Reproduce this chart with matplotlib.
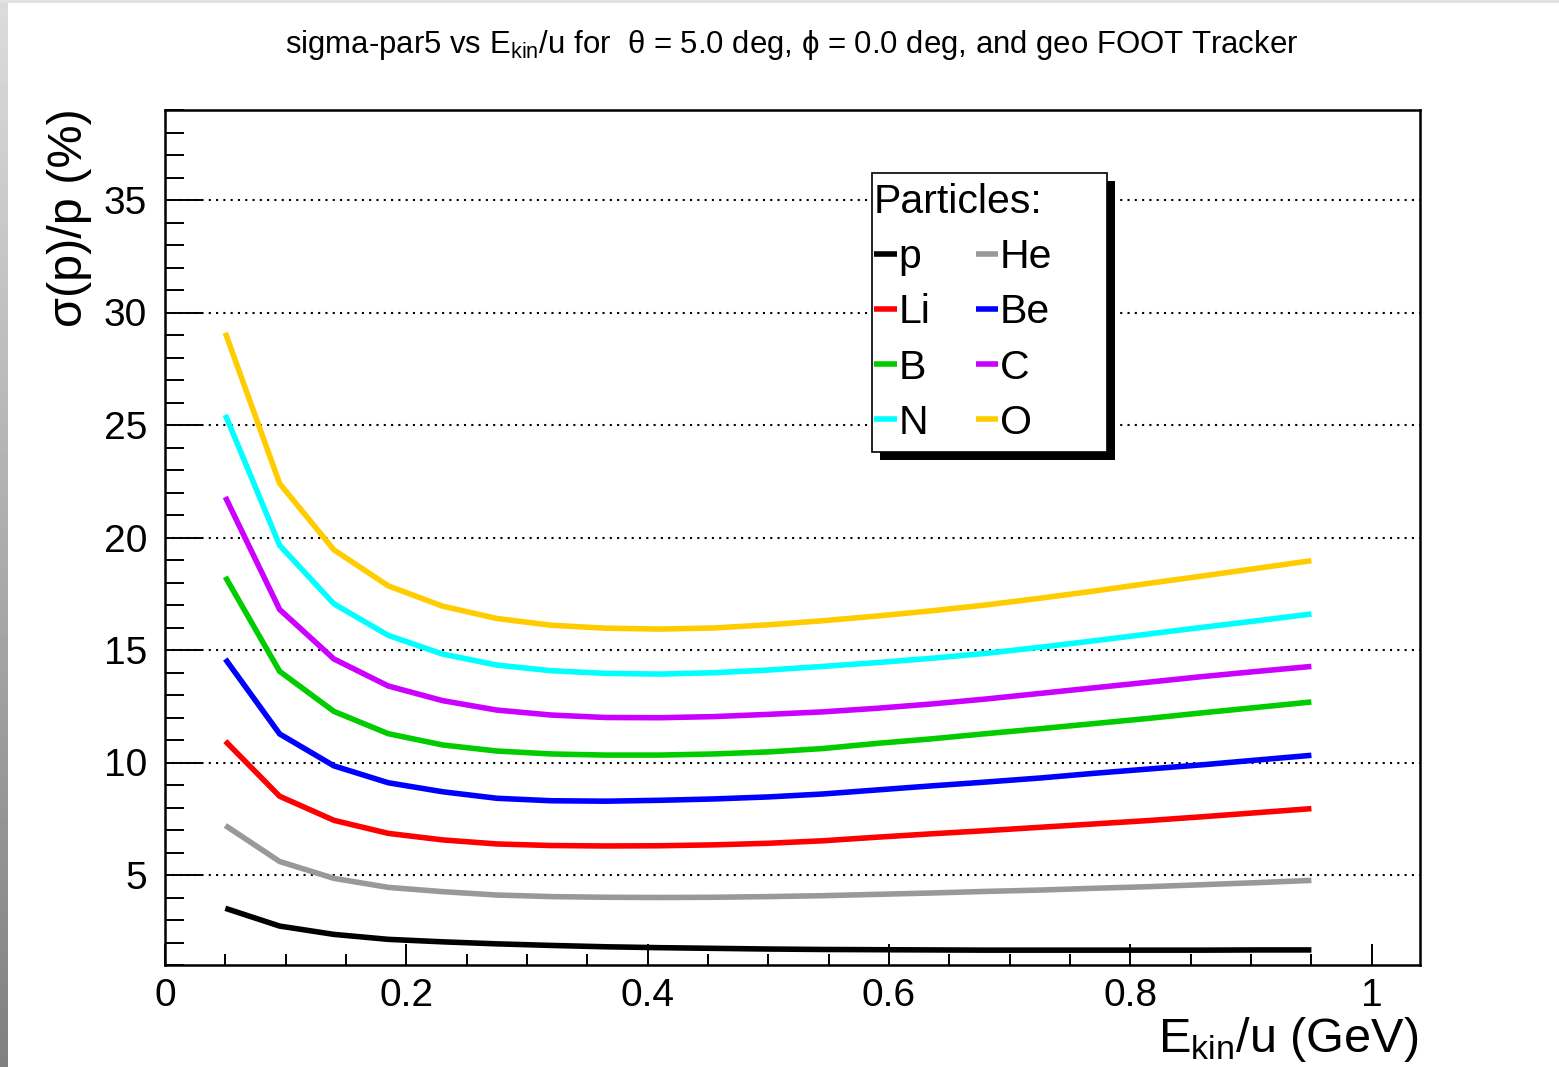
import matplotlib
matplotlib.use("Agg")
import matplotlib.pyplot as plt
import numpy as np
from matplotlib.lines import Line2D
from matplotlib.patches import Rectangle
from matplotlib.ticker import MultipleLocator, FixedLocator, FixedFormatter

plt.rcParams['font.family'] = ['Liberation Sans', 'DejaVu Sans']
plt.rcParams['mathtext.fontset'] = 'custom'
plt.rcParams['mathtext.rm'] = 'Liberation Sans'
plt.rcParams['mathtext.it'] = 'Liberation Sans:italic'

# kinetic energy per nucleon (GeV)
ekin = [0.05, 0.095, 0.14, 0.185, 0.23, 0.275, 0.32, 0.365, 0.41, 0.455, 0.5,
        0.545, 0.59, 0.635, 0.68, 0.725, 0.77, 0.815, 0.86, 0.905, 0.95]

# momentum resolution sigma(p)/p in percent, one list per particle
res_p = [3.52, 2.73, 2.36, 2.14, 2.03, 1.94, 1.87, 1.81, 1.77, 1.74, 1.71,
         1.69, 1.68, 1.67, 1.66, 1.66, 1.66, 1.66, 1.66, 1.67, 1.67]
res_he = [7.2, 5.6, 4.85, 4.45, 4.26, 4.11, 4.04, 4.01, 4.0, 4.01, 4.04,
          4.08, 4.14, 4.2, 4.27, 4.33, 4.41, 4.48, 4.57, 4.66, 4.76]
res_li = [10.95, 8.5, 7.43, 6.85, 6.56, 6.38, 6.31, 6.29, 6.3, 6.34, 6.41,
          6.52, 6.68, 6.83, 6.97, 7.12, 7.27, 7.42, 7.59, 7.77, 7.95]
res_be = [14.6, 11.27, 9.85, 9.1, 8.7, 8.41, 8.3, 8.28, 8.32, 8.38, 8.47,
          8.6, 8.78, 8.96, 9.13, 9.31, 9.52, 9.71, 9.9, 10.11, 10.32]
res_b = [18.25, 14.05, 12.27, 11.28, 10.78, 10.51, 10.38, 10.33, 10.33, 10.38, 10.47,
         10.62, 10.85, 11.05, 11.28, 11.5, 11.73, 11.96, 12.21, 12.45, 12.69]
res_c = [21.8, 16.8, 14.6, 13.4, 12.75, 12.33, 12.11, 12.0, 11.99, 12.04, 12.14,
         12.25, 12.41, 12.6, 12.82, 13.07, 13.32, 13.57, 13.82, 14.05, 14.27]
res_n = [25.45, 19.65, 17.05, 15.65, 14.82, 14.33, 14.08, 13.96, 13.93, 13.99, 14.11,
         14.27, 14.44, 14.63, 14.85, 15.12, 15.41, 15.71, 16.01, 16.3, 16.6]
res_o = [29.1, 22.4, 19.45, 17.85, 16.95, 16.4, 16.1, 15.97, 15.93, 15.98, 16.12,
         16.3, 16.51, 16.74, 17.0, 17.3, 17.62, 17.96, 18.29, 18.63, 18.97]

names = ['p', 'He', 'Li', 'Be', 'B', 'C', 'N', 'O']
series = [res_p, res_he, res_li, res_be, res_b, res_c, res_n, res_o]
colors = ['#000000', '#999999', '#ff0000', '#0000ff', '#00cc00', '#cc00ff', '#00ffff', '#ffcc00']

x_ticks = [0, 0.2, 0.4, 0.6, 0.8, 1.0]
x_labels = ['0', '0.2', '0.4', '0.6', '0.8', '1']
y_ticks = [5, 10, 15, 20, 25, 30, 35]

W, H = 1559, 1067
fig = plt.figure(figsize=(W / 100, H / 100), dpi=100)


def fx(px):
    return px / W


def fy(py):
    return 1 - py / H


ax = fig.add_axes([fx(165), fy(965), fx(1420) - fx(165), fy(110) - fy(965)])

for vals, col in zip(series, colors):
    ax.plot(ekin, vals, color=col, lw=4, solid_capstyle='butt', solid_joinstyle='miter', zorder=3)

ax.set_xlim(0, 1.04)
ax.set_ylim(1, 39)

ax.xaxis.set_major_locator(FixedLocator(x_ticks))
ax.xaxis.set_major_formatter(FixedFormatter(x_labels))
ax.xaxis.set_minor_locator(MultipleLocator(0.05))
ax.yaxis.set_major_locator(FixedLocator(y_ticks))
ax.yaxis.set_minor_locator(MultipleLocator(1))

ax.tick_params(axis='both', which='both', direction='in', top=False, right=False,
               width=1.4, labelsize=28)
ax.tick_params(axis='y', which='major', length=26.5, pad=13)
ax.tick_params(axis='y', which='minor', length=13.5)
ax.tick_params(axis='x', which='major', length=15, pad=9)
ax.tick_params(axis='x', which='minor', length=8)

ax.grid(axis='y', which='major', color='black', lw=1.5, linestyle=(0, (1, 2.5)))
ax.set_axisbelow(True)
for s in ax.spines.values():
    s.set_linewidth(1.8)

# title and axis labels
fig.text(fx(792), fy(45), r'sigma-par5 vs E$_{\mathrm{kin}}$/u for  θ = 5.0 deg, ϕ = 0.0 deg, and geo FOOT Tracker',
         ha='center', va='center', fontsize=22.4)
fig.text(fx(70), fy(108), 'σ(p)/p (%)', rotation=90, ha='center', va='top', fontsize=35)
fig.text(fx(1418), fy(1040), r'E$_{\mathrm{kin}}$/u (GeV)', ha='right', va='center', fontsize=35)

# legend box with ROOT-like drop shadow
def axbox(x0, y0, x1, y1, **kw):
    return Rectangle((fx(x0), fy(y1)), fx(x1) - fx(x0), fy(y0) - fy(y1),
                     transform=fig.transFigure, clip_on=False, **kw)


ax.add_patch(axbox(880, 181, 1115, 460, facecolor='black', edgecolor='none', zorder=5))
ax.add_patch(axbox(872, 173, 1107, 452, facecolor='white', edgecolor='black', lw=1.2, zorder=5.5))

order = [0, 2, 4, 6, 1, 3, 5, 7]
handles = [Line2D([], [], color=colors[i], lw=4, solid_capstyle='butt') for i in order]
labels = [names[i] for i in order]
leg = ax.legend(handles, labels, ncol=2, title='Particles:', title_fontsize=29.5, fontsize=29.5,
                loc='upper left', bbox_to_anchor=(fx(874), fy(183)), bbox_transform=fig.transFigure,
                frameon=False, handlelength=0.55, handletextpad=0.05, columnspacing=1.1,
                labelspacing=0.42, borderpad=0, borderaxespad=0, alignment='left')
leg.set_zorder(6)

# window frame strips
strip = fig.add_axes([0, 0, fx(8), 1])
strip.imshow(np.linspace(0.86, 0.5, 256).reshape(-1, 1), cmap='gray', vmin=0, vmax=1,
             aspect='auto', extent=[0, 1, 0, 1])
strip.axis('off')
fig.patches.append(Rectangle((0, fy(3)), 1, fy(0) - fy(3), transform=fig.transFigure,
                             facecolor='#e2e2e6', edgecolor='none'))

fig.savefig('out.png', dpi=100)
